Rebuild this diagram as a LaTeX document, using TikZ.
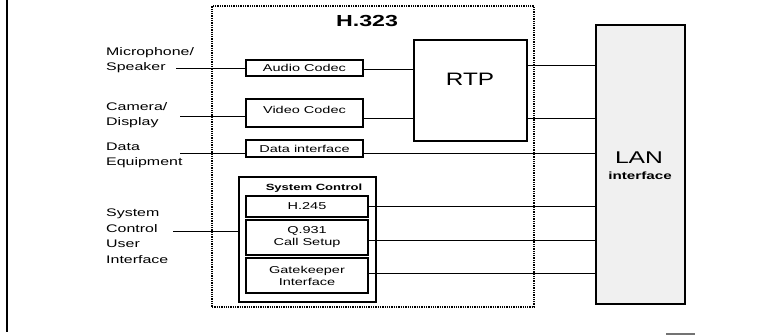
\documentclass[tikz,border=0pt]{standalone}
\usepackage{graphicx}
\usepackage{fontspec}
\setmainfont{Liberation Sans}
\usetikzlibrary{fit}
\newcommand{\wx}[1]{\scalebox{1.45}[1]{#1}}
\begin{document}
\begin{tikzpicture}[x=1pt,y=-1pt,
  box/.style={draw, line width=1.1pt, inner sep=0pt},
  lbl/.style={anchor=west, align=left, font=\fontsize{11}{15.5}\selectfont, inner sep=0pt},
  txt/.style={font=\fontsize{10}{12}\selectfont, align=center, inner sep=0pt},
  wire/.style={line width=1pt}]
\useasboundingbox (0,0) rectangle (784,335);
% left border line
\coordinate (bt) at (7,0);
\coordinate (bb) at (7,332);
\draw[line width=1.2pt] (bt) -- (bb);
% H.323 dotted frame
\node[fit={(212,6)(534,307)}, inner sep=0pt, draw, densely dotted, line width=1.3pt] (h323) {};
\node[font=\bfseries\fontsize{16}{18}\selectfont, inner sep=0pt] (h323t) at (367,21) {\wx{H.323}};
% codec boxes
\node[box, fit={(246,60)(363,76)}] (audio) {};
\node[txt] (audiot) at (audio.center) {\wx{Audio Codec}};
\node[box, fit={(246,99)(363,127)}] (video) {};
\node[txt] (videot) at (304.5,110) {\wx{Video Codec}};
\node[box, fit={(246,140)(363,157)}] (data) {};
\node[txt] (datat) at (data.center) {\wx{Data interface}};
% RTP
\node[box, fit={(414,40)(527,141)}] (rtp) {};
\node[font=\fontsize{18}{20}\selectfont, inner sep=0pt] (rtpt) at (470,79) {\scalebox{1.35}[1]{RTP}};
% LAN
\node[box, fit={(596,25)(685,304)}, line width=1.4pt, fill=black!6] (lan) {};
\node[font=\fontsize{17}{19}\selectfont, inner sep=0pt] (lant) at (639,158) {\wx{LAN}};
\node[font=\bfseries\fontsize{10.5}{12}\selectfont, inner sep=0pt] (lani) at (640,176) {\wx{interface}};
% System control
\node[box, fit={(239,177)(376,302)}] (sc) {};
\node[font=\bfseries\fontsize{9}{10}\selectfont, inner sep=0pt] (sct) at (314,188) {\wx{System Control}};
\node[box, fit={(246,196)(368,217)}] (h245) {};
\node[txt] (h245t) at (h245.center) {\wx{H.245}};
\node[box, fit={(246,220)(368,255)}] (q931) {};
\node[txt] (q931t) at (q931.center) {\wx{Q.931}\\\wx{Call Setup}};
\node[box, fit={(246,258)(368,293)}] (gk) {};
\node[txt] (gkt) at (gk.center) {\wx{Gatekeeper}\\\wx{Interface}};
% left labels
\node[lbl] (mic) at (106,60) {\wx{Microphone/}\\\wx{Speaker}};
\node[lbl] (cam) at (106,115) {\wx{Camera/}\\\wx{Display}};
\node[lbl] (deq) at (106,155.5) {\wx{Data}\\\wx{Equipment}};
\node[lbl] (sys) at (106,236) {\wx{System}\\\wx{Control}\\\wx{User}\\\wx{Interface}};
% input wires
\coordinate (micend) at (176,68);
\coordinate (camend) at (180,116);
\coordinate (datend) at (180,153);
\coordinate (sysend) at (173,231);
\draw[wire] (micend) -- (micend -| audio.west);
\draw[wire] (camend) -- (camend -| video.west);
\draw[wire] (datend) -- (datend -| data.west);
\draw[wire] (sysend) -- (sysend -| sc.west);
% codec to RTP
\coordinate (a1) at (363,69);
\coordinate (v1) at (363,118);
\draw[wire] (a1) -- (a1 -| rtp.west);
\draw[wire] (v1) -- (v1 -| rtp.west);
% RTP to LAN
\coordinate (r1) at (527,65);
\coordinate (r2) at (527,118);
\draw[wire] (r1) -- (r1 -| lan.west);
\draw[wire] (r2) -- (r2 -| lan.west);
% data and control to LAN
\coordinate (d1) at (363,153);
\coordinate (c1) at (368,206);
\coordinate (c2) at (368,240);
\coordinate (c3) at (368,273);
\draw[wire] (d1) -- (d1 -| lan.west);
\draw[wire] (c1) -- (c1 -| lan.west);
\draw[wire] (c2) -- (c2 -| lan.west);
\draw[wire] (c3) -- (c3 -| lan.west);
% small bar at bottom
\coordinate (s1) at (666,334);
\coordinate (s2) at (695,334);
\draw[black!55, line width=1.2pt] (s1) -- (s2);
\end{tikzpicture}
\end{document}
